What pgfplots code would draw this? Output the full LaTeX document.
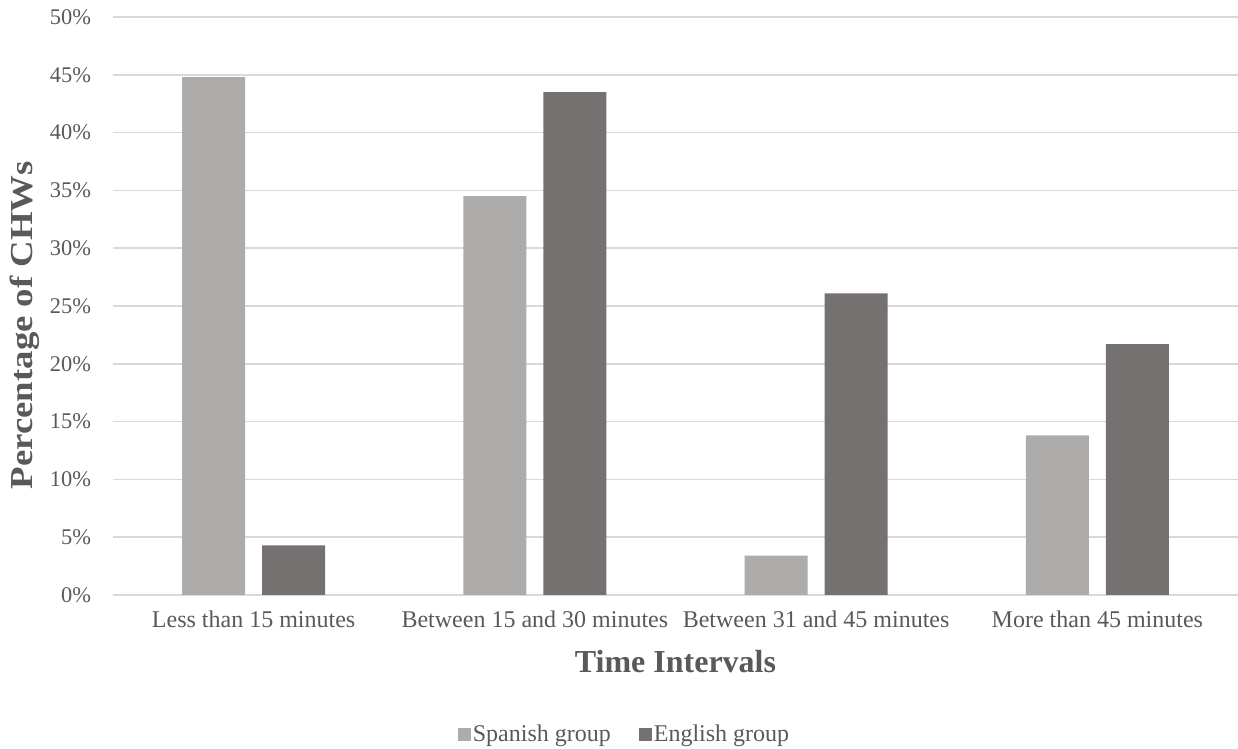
\documentclass[border=0pt]{standalone}
\usepackage{pgfplots}
\pgfplotsset{compat=1.18}
\usepackage{graphicx}
\usepackage{fontspec}
\setmainfont{Liberation Serif}

\definecolor{spanish}{HTML}{AEABAB}
\definecolor{english}{HTML}{767171}
\definecolor{gridgray}{HTML}{D9D9D9}
\definecolor{textgray}{HTML}{595959}

\begin{document}
\begin{tikzpicture}
\useasboundingbox (-56.5pt,-77pt) rectangle (562.5pt,297.5pt);
\begin{axis}[
  at={(0,0)}, anchor=south west,
  scale only axis,
  width=562.5pt, height=289pt,
  ybar=8.5pt, bar width=31.5pt,
  xmin=-0.5, xmax=3.5,
  ymin=0, ymax=50,
  xtick=data,
  xticklabels={Less than 15 minutes, Between 15 and 30 minutes, Between 31 and 45 minutes, More than 45 minutes},
  ytick={0,5,...,50},
  yticklabels={0\%,5\%,10\%,15\%,20\%,25\%,30\%,35\%,40\%,45\%,50\%},
  major tick length=0pt,
  axis line style={draw=none},
  ymajorgrids,
  grid style={gridgray, line width=0.75pt},
  xticklabel style={font=\fontsize{12}{14}\selectfont, text=textgray, yshift=-4.5pt},
  yticklabel style={font=\fontsize{11.2}{13}\selectfont, text=textgray, xshift=-7.5pt},
  xlabel={Time Intervals},
  ylabel={\scalebox{1.15}[1]{Percentage of CHWs}},
  xlabel style={font=\fontsize{16}{18}\selectfont\bfseries, text=textgray,
    at={(axis description cs:0.5,-0.1154)}, anchor=center},
  ylabel style={font=\fontsize{16}{18}\selectfont\bfseries, text=textgray,
    at={(axis description cs:-0.0782,0.467)}, anchor=center},
  legend style={draw=none, fill=none, font=\fontsize{12}{14}\selectfont,
    text=textgray, legend columns=2,
    nodes={inner xsep=1pt},
    at={(axis description cs:0.4547,-0.2422)}, anchor=center,
    /tikz/every even column/.append style={column sep=13pt}},
  legend image code/.code={\fill[#1] (0pt,-3.25pt) rectangle (6.5pt,3.25pt);},
]
\addplot[fill=spanish, draw=none] coordinates {(0,44.8) (1,34.5) (2,3.4) (3,13.8)};
\addplot[fill=english, draw=none] coordinates {(0,4.3) (1,43.5) (2,26.1) (3,21.7)};
\legend{Spanish group, English group}
\end{axis}
\end{tikzpicture}
\end{document}
